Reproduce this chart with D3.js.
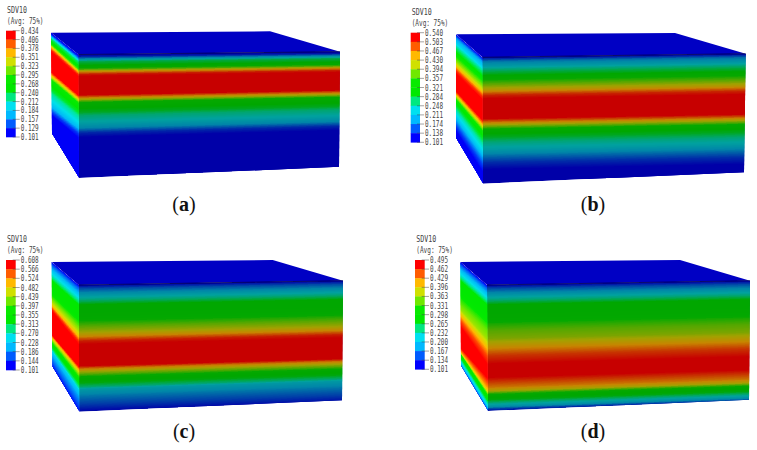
<!DOCTYPE html>
<html>
<head>
<meta charset="utf-8">
<style>
  html, body { margin: 0; padding: 0; background: #fff; }
  svg { display: block; }
</style>
<script src="https://cdn.jsdelivr.net/npm/d3@7"></script>
</head>
<body>
<svg id="chart" width="757" height="450"></svg>
<script>
// Contour legend tick labels, top to bottom
const ticksA = ["0.434","0.406","0.378","0.351","0.323","0.295","0.268","0.240","0.212","0.184","0.157","0.129","0.101"];
const ticksB = ["0.540","0.503","0.467","0.430","0.394","0.357","0.321","0.284","0.248","0.211","0.174","0.138","0.101"];
const ticksC = ["0.608","0.566","0.524","0.482","0.439","0.397","0.355","0.313","0.270","0.228","0.186","0.144","0.101"];
const ticksD = ["0.495","0.462","0.429","0.396","0.363","0.331","0.298","0.265","0.232","0.200","0.167","0.134","0.101"];

// SDV10 through the thickness: depth fraction on the front face and value there
const depthA = [0,.014,.036,.058,.097,.12,.136,.16,.175,.33,.35,.37,.39,.425,.47,.5,.555,.6,.64,.675,1];
const sdvA   = [.101,.111,.168,.228,.261,.307,.361,.421,.434,.434,.384,.334,.284,.258,.241,.211,.188,.161,.118,.101,.101];
const depthB = [0,.03,.074,.115,.156,.18,.224,.265,.306,.333,.497,.525,.552,.58,.607,.647,.69,.743,.798,.852,.907,1];
const sdvB   = [.101,.167,.211,.268,.312,.342,.391,.443,.518,.540,.540,.474,.408,.342,.307,.285,.241,.211,.167,.127,.101,.101];
const depthC = [0,.027,.075,.116,.156,.264,.29,.33,.375,.41,.445,.47,.645,.665,.69,.722,.744,.78,.81,.83,.884,.95,1];
const sdvC   = [.101,.152,.213,.263,.334,.344,.385,.425,.466,.517,.588,.608,.608,.532,.466,.395,.339,.324,.273,.223,.182,.142,.106];
const depthD = [0,.027,.076,.117,.157,.28,.306,.36,.428,.496,.564,.63,.74,.78,.82,.848,.867,.889,.92,.949,.976,1];
const sdvD   = [.101,.140,.188,.227,.282,.290,.322,.349,.369,.416,.467,.495,.495,.463,.432,.393,.337,.286,.274,.219,.180,.113];

// How depths on the front edge map onto the rear edge of the side face
const rearFromA = [0,.13,.355,.65,1],  rearToA = [0,.13,.42,.8,1];
const rearFromB = [0,.18,.47,.85,1],   rearToB = [0,.21,.52,.88,1];
const rearFromC = [0,.264,.47,.645,1], rearToC = [0,.30,.47,.70,1];
const rearFromD = [0,.28,.36,.5,.63,.74,.88,1], rearToD = [0,.32,.41,.51,.62,.83,.89,1];

// Contour colours, lowest band first
const spectrum = ["#0000ff","#005cff","#00b9ff","#00e0f0","#00e880","#00e800",
                  "#08ea00","#70e800","#d0e000","#ffb900","#ff5c00","#ff0000"];

const panels = [
  { tag:"a", ticks:ticksA, depth:depthA, sdv:sdvA, rearFrom:rearFromA, rearTo:rearToA, skew:1.02,
    legend:{x:6, w:9.7, y0:30.7, y1:137, text:20.7, title:7, t1:9.8, t2:21},
    box:{bl:[51,32.7], br:[270,31.3], r:[340,51.7], fl:[78.3,54.5], ffl:[79,178], fr:[339,166.7], lb:[52,134]},
    cap:[184,205] },
  { tag:"b", ticks:ticksB, depth:depthB, sdv:sdvB, rearFrom:rearFromB, rearTo:rearToB, skew:1.05,
    legend:{x:410.7, w:9.3, y0:32.7, y1:142.3, text:425, title:411.7, t1:11.8, t2:22.5},
    box:{bl:[456,34.3], br:[675,33], r:[745.7,53.7], fl:[482.3,57.3], ffl:[483,183.7], fr:[744,172.3], lb:[456,138.3]},
    cap:[593,205] },
  { tag:"c", ticks:ticksC, depth:depthC, sdv:sdvC, rearFrom:rearFromC, rearTo:rearToC, skew:1.02,
    legend:{x:6, w:9.7, y0:260, y1:370, text:20.7, title:7, t1:238.5, t2:249.5},
    box:{bl:[51.7,262], br:[272.7,260], r:[343,280.7], fl:[78.7,285], ffl:[79.3,411.7], fr:[342,400.3], lb:[52.3,366.7]},
    cap:[184,432] },
  { tag:"d", ticks:ticksD, depth:depthD, sdv:sdvD, rearFrom:rearFromD, rearTo:rearToD, skew:1.02,
    legend:{x:415, w:9.7, y0:260, y1:369.3, text:430, title:416.3, t1:238.5, t2:249.5},
    box:{bl:[460.3,262], br:[680,260], r:[750,280.7], fl:[487,285], ffl:[488,411], fr:[749,399.7], lb:[461,366]},
    cap:[593,432] }
];

const svg = d3.select("#chart");
const defs = svg.append("defs");
const STRIPS = 300;
const MARGIN = 0.02;            // strips run slightly past the face and are clipped to it
const lerp = (a, b, t) => [a[0] + (b[0] - a[0]) * t, a[1] + (b[1] - a[1]) * t];
const quad = pts => "M" + pts.map(p => p.join(",")).join("L") + "Z";

// Lighting on each visible face, per channel
const frontLight = [0.78, 0.72, 0.66];
const sideLight  = [1.0, 1.0, 0.97];
const lit = (col, k) => { const c = d3.rgb(col); return d3.rgb(c.r * k[0], c.g * k[1], c.b * k[2]).formatRgb(); };

panels.forEach(p => {
  const g = svg.append("g").attr("class", "panel-" + p.tag);
  const min = +p.ticks[p.ticks.length - 1], max = +p.ticks[0];

  const colour = d3.scaleLinear()
    .domain(d3.range(spectrum.length).map(i => min + (max - min) * i / (spectrum.length - 1)))
    .range(spectrum)
    .clamp(true);
  const valueAt = d3.scaleLinear().domain(p.depth).range(p.sdv).clamp(true);
  const rear = d3.scaleLinear().domain(p.rearFrom).range(p.rearTo).clamp(false);

  const b = p.box;
  const steps = d3.range(STRIPS).map(i => i / STRIPS);
  const k = p.skew, kL = 1 / (1 + (k - 1) / 2), kR = 1 + (k - 1) / 2;

  // Point on a face: u across it, d down it, with each edge pair given
  const across = (l, r, u) => lerp(l, r, u);
  const strip = (l0, r0, l1, r1) => quad([
    across(l0, r0, -MARGIN), across(l0, r0, 1 + MARGIN),
    across(l1, r1, 1 + MARGIN), across(l1, r1, -MARGIN)
  ]);

  // Clipped faces keep smooth outer edges while the strips stay crisp
  const frontId = "front-" + p.tag, sideId = "side-" + p.tag;
  defs.append("clipPath").attr("id", frontId).append("path").attr("d", quad([b.fl, b.r, b.fr, b.ffl]));
  defs.append("clipPath").attr("id", sideId).append("path").attr("d", quad([b.bl, b.fl, b.ffl, b.lb]));

  // Front face
  const front = g.append("g").attr("clip-path", `url(#${frontId})`);
  front.append("path").attr("d", quad([b.fl, b.r, b.fr, b.ffl])).attr("fill", lit(colour(valueAt(1)), frontLight));
  front.append("g").attr("shape-rendering", "crispEdges")
    .selectAll("path").data(steps).join("path")
    .attr("d", d => {
      const e = d + 2 / STRIPS;
      return strip(lerp(b.fl, b.ffl, d * kL), lerp(b.r, b.fr, d * kR),
                   lerp(b.fl, b.ffl, e * kL), lerp(b.r, b.fr, e * kR));
    })
    .attr("fill", d => lit(colour(valueAt(d)), frontLight));

  // Side face
  const side = g.append("g").attr("clip-path", `url(#${sideId})`);
  side.append("g").attr("shape-rendering", "crispEdges")
    .selectAll("path").data(steps).join("path")
    .attr("d", d => {
      const e = Math.min(1.01, d + 2 / STRIPS);
      return strip(lerp(b.bl, b.lb, rear(d)), lerp(b.fl, b.ffl, d),
                   lerp(b.bl, b.lb, rear(e)), lerp(b.fl, b.ffl, e));
    })
    .attr("fill", d => lit(colour(valueAt(d)), sideLight));

  // Top face and the dark edge where it meets the front
  g.append("path").attr("d", quad([b.bl, b.br, b.r, b.fl])).attr("fill", "#0000c4");
  g.append("line")
    .attr("x1", b.fl[0]).attr("y1", b.fl[1]).attr("x2", b.r[0]).attr("y2", b.r[1])
    .attr("stroke", "#000050").attr("stroke-width", 0.8);

  // Legend
  const L = p.legend;
  const y = d3.scalePoint().domain(p.ticks).range([L.y0, L.y1]);
  const lg = g.append("g").attr("class", "legend");
  const bands = p.ticks.slice(0, -1);
  lg.selectAll("rect").data(bands).join("rect")
    .attr("x", L.x).attr("width", L.w)
    .attr("y", d => y(d))
    .attr("height", y.step() + 0.3)
    .attr("fill", (d, i) => spectrum[spectrum.length - 1 - i]);
  lg.selectAll("line").data(p.ticks).join("line")
    .attr("x1", L.x + L.w - 3).attr("x2", L.text - 1)
    .attr("y1", d => y(d)).attr("y2", d => y(d))
    .attr("stroke", "#444").attr("stroke-opacity", 0.7).attr("stroke-width", 0.7);
  lg.selectAll("text.tick").data(p.ticks).join("text")
    .attr("class", "tick")
    .attr("x", L.text).attr("y", d => y(d) + 3)
    .attr("textLength", 18).attr("lengthAdjust", "spacingAndGlyphs")
    .attr("font-family", "'DejaVu Sans Mono'").attr("font-size", 8).attr("fill", "#444")
    .text(d => d);
  lg.append("text").attr("x", L.title).attr("y", L.t1 + 3)
    .attr("textLength", 20).attr("lengthAdjust", "spacingAndGlyphs")
    .attr("font-family", "'DejaVu Sans Mono'").attr("font-size", 8).attr("fill", "#444")
    .text("SDV10");
  lg.append("text").attr("x", L.title).attr("y", L.t2 + 3)
    .attr("textLength", 36.5).attr("lengthAdjust", "spacingAndGlyphs")
    .attr("font-family", "'DejaVu Sans Mono'").attr("font-size", 8).attr("fill", "#444")
    .text("(Avg: 75%)");

  // Sub-figure caption
  const cap = g.append("text")
    .attr("x", p.cap[0]).attr("y", p.cap[1] + 6)
    .attr("text-anchor", "middle")
    .attr("font-family", "'Liberation Serif'").attr("font-size", 20).attr("fill", "#111");
  cap.append("tspan").text("(");
  cap.append("tspan").attr("font-weight", "bold").text(p.tag);
  cap.append("tspan").text(")");
});
</script>
</body>
</html>
